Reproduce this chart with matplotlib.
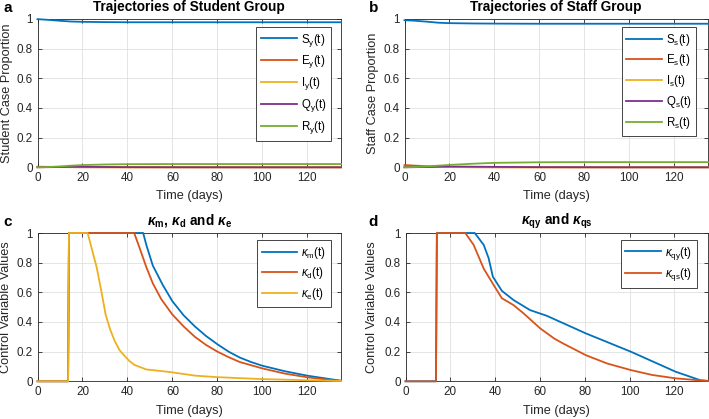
import matplotlib
matplotlib.use("Agg")
import matplotlib.pyplot as plt
from matplotlib.ticker import FuncFormatter, MultipleLocator

plt.rcParams['font.family'] = ['Liberation Sans', 'DejaVu Sans']
plt.rcParams['mathtext.fontset'] = 'custom'
plt.rcParams['mathtext.rm'] = 'Liberation Sans'
plt.rcParams['mathtext.it'] = 'Liberation Sans:italic'
plt.rcParams['mathtext.bf'] = 'Liberation Sans:bold'
plt.rcParams['mathtext.bfit'] = 'Liberation Sans:bold:italic'

# ---------------- data ----------------
t_ab = [0, 5, 10, 15, 20, 30, 40, 60, 80, 100, 120, 135]
S_y = [0.999, 0.994, 0.988, 0.983, 0.981, 0.979, 0.978, 0.978, 0.978, 0.978, 0.978, 0.978]
E_y = [0.004, 0.003, 0.002, 0.001, 0.0005, 0.0002, 0.0, 0.0, 0.0, 0.0, 0.0, 0.0]
I_y = [0.001, 0.001, 0.001, 0.001, 0.0008, 0.0004, 0.0002, 0.0, 0.0, 0.0, 0.0, 0.0]
Q_y = [0.0, 0.001, 0.002, 0.003, 0.003, 0.002, 0.001, 0.0005, 0.0002, 0.0, 0.0, 0.0]
R_y = [0.0, 0.002, 0.006, 0.011, 0.015, 0.019, 0.021, 0.022, 0.022, 0.022, 0.022, 0.022]

S_s = [0.992, 0.988, 0.982, 0.975, 0.972, 0.970, 0.969, 0.968, 0.968, 0.968, 0.968, 0.968]
E_s = [0.015, 0.011, 0.007, 0.004, 0.002, 0.001, 0.0004, 0.0, 0.0, 0.0, 0.0, 0.0]
I_s = [0.002, 0.002, 0.002, 0.0015, 0.001, 0.0005, 0.0002, 0.0, 0.0, 0.0, 0.0, 0.0]
Q_s = [0.0, 0.001, 0.002, 0.004, 0.005, 0.004, 0.003, 0.001, 0.0005, 0.0, 0.0, 0.0]
R_s = [0.0, 0.002, 0.006, 0.011, 0.016, 0.024, 0.030, 0.034, 0.035, 0.035, 0.035, 0.035]

t_km = [0, 13.6, 14, 47, 48.4, 51.3, 55.7, 60, 65, 70, 75, 80, 85, 90, 95, 100, 110, 120, 130, 135]
k_m = [0, 0, 1, 1, 0.92, 0.78, 0.65, 0.54, 0.445, 0.37, 0.305, 0.25, 0.2, 0.16, 0.13, 0.105, 0.068, 0.038, 0.015, 0.004]
t_kd = [0, 13.6, 14, 43, 45.4, 48.4, 51.3, 55, 60, 65, 70, 75, 80, 85, 90, 100, 110, 120, 130, 135]
k_d = [0, 0, 1, 1, 0.9, 0.77, 0.66, 0.555, 0.45, 0.37, 0.30, 0.245, 0.2, 0.163, 0.13, 0.087, 0.052, 0.027, 0.009, 0.003]
t_ke = [0, 13.6, 14, 22.3, 26.3, 28.5, 30.3, 32.3, 34.4, 36.5, 38.8, 41, 43.2, 48.4, 58.7, 70.2, 79.9, 99.7, 120.3, 135]
k_e = [0, 0, 1, 1, 0.77, 0.6, 0.45, 0.35, 0.27, 0.21, 0.17, 0.135, 0.11, 0.08, 0.063, 0.038, 0.028, 0.015, 0.007, 0.002]

t_qy = [0, 13.6, 14, 30.9, 34.9, 37.1, 39, 43, 48.2, 55.6, 63, 70.2, 80.5, 100.5, 120.5, 131.6, 135]
k_qy = [0, 0, 1, 1, 0.92, 0.83, 0.705, 0.61, 0.548, 0.48, 0.442, 0.393, 0.323, 0.2, 0.065, 0.007, 0.003]
t_qs = [0, 13.6, 14, 26.7, 30.4, 34.9, 39.3, 43, 48.2, 52.7, 60.1, 66.4, 70.2, 80.5, 90, 100.5, 110, 120.5, 135]
k_qs = [0, 0, 1, 1, 0.92, 0.76, 0.65, 0.56, 0.514, 0.458, 0.357, 0.288, 0.256, 0.176, 0.12, 0.076, 0.043, 0.02, 0.002]

C = ['#0072BD', '#D95319', '#EDB120', '#7E2F8E', '#77AC30']
LW = 1.3
W, H = 709, 419
fig = plt.figure(figsize=(W / 100, H / 100), dpi=100)

def make_ax(l, r, top, bot):
    return fig.add_axes([l / W, (H - bot) / H, (r - l) / W, (bot - top) / H])

ax_a = make_ax(37.5, 341, 19, 167.3)
ax_b = make_ax(404.5, 708, 19, 167.3)
ax_c = make_ax(37.5, 341, 233, 381.3)
ax_d = make_ax(405.5, 708, 233, 381.3)

fmt = FuncFormatter(lambda v, p: '%g' % round(v, 3))

def style(ax, ylabel, title, ylx, xly):
    ax.set_xlim(0, 135)
    ax.set_ylim(0, 1)
    ax.xaxis.set_major_locator(MultipleLocator(20))
    ax.yaxis.set_major_locator(MultipleLocator(0.2))
    ax.yaxis.set_major_formatter(fmt)
    ax.grid(True, color='#e0e0e0', linewidth=0.6)
    ax.set_axisbelow(True)
    ax.tick_params(direction='in', top=True, right=True, length=3, width=0.6,
                   labelsize=8.4, colors='#262626', pad=3.5)
    for s in ax.spines.values():
        s.set_color('#262626')
        s.set_linewidth(0.6)
        s.set_zorder(1.5)
    ax.set_xlabel('Time (days)', fontsize=9.2, color='#262626')
    ax.set_ylabel(ylabel, fontsize=9.2, color='#262626')
    ax.xaxis.set_label_coords(0.5, xly)
    ax.yaxis.set_label_coords(ylx, 0.5)
    ax.set_title(title, fontsize=9.8, fontweight='bold', pad=6)

def leg(ax, x, y):
    lg = ax.legend(loc='upper right', bbox_to_anchor=(x, y), fontsize=8.3,
                   handlelength=3.1, handletextpad=0.35, labelspacing=0.42,
                   borderpad=0.4, fancybox=False, framealpha=1,
                   edgecolor='#262626', borderaxespad=0)
    lg.get_frame().set_linewidth(0.6)
    lg.set_zorder(5)

def line(ax, x, y, c, lab):
    ax.plot(x, y, color=c, lw=LW, label=lab, clip_on=False, zorder=3)

# panel a
for y, c, lab in zip([S_y, E_y, I_y, Q_y, R_y], C,
                     ['S', 'E', 'I', 'Q', 'R']):
    line(ax_a, t_ab, y, c, lab + r'$_\mathregular{y}$(t)')
style(ax_a, 'Student Case Proportion', 'Trajectories of Student Group', -0.08, -0.155)
leg(ax_a, 0.967, 0.946)

# panel b
for y, c, lab in zip([S_s, E_s, I_s, Q_s, R_s], C,
                     ['S', 'E', 'I', 'Q', 'R']):
    line(ax_b, t_ab, y, c, lab + r'$_\mathregular{s}$(t)')
style(ax_b, 'Staff Case Proportion', 'Trajectories of Staff Group', -0.084, -0.155)
leg(ax_b, 0.962, 0.946)

# panel c
line(ax_c, t_km, k_m, C[0], r'$\kappa_\mathregular{m}$(t)')
line(ax_c, t_kd, k_d, C[1], r'$\kappa_\mathregular{d}$(t)')
line(ax_c, t_ke, k_e, C[2], r'$\kappa_\mathregular{e}$(t)')
style(ax_c, 'Control Variable Values',
      r'$\mathbfit{\kappa}_\mathbf{m}$, $\mathbfit{\kappa}_\mathbf{d}$ and $\mathbfit{\kappa}_\mathbf{e}$',
      -0.084, -0.16)
leg(ax_c, 0.967, 0.953)

# panel d
line(ax_d, t_qy, k_qy, C[0], r'$\kappa_\mathregular{qy}$(t)')
line(ax_d, t_qs, k_qs, C[1], r'$\kappa_\mathregular{qs}$(t)')
style(ax_d, 'Control Variable Values',
      r'$\mathbfit{\kappa}_\mathbf{qy}$ and $\mathbfit{\kappa}_\mathbf{qs}$', -0.09, -0.16)
leg(ax_d, 0.962, 0.953)

for lab, x, y in [('a', 3, 12), ('b', 369, 12), ('c', 3, 226), ('d', 368, 226)]:
    fig.text(x / W, 1 - y / H, lab, fontsize=11, fontweight='bold', va='baseline')

fig.savefig('out.png', dpi=100)
